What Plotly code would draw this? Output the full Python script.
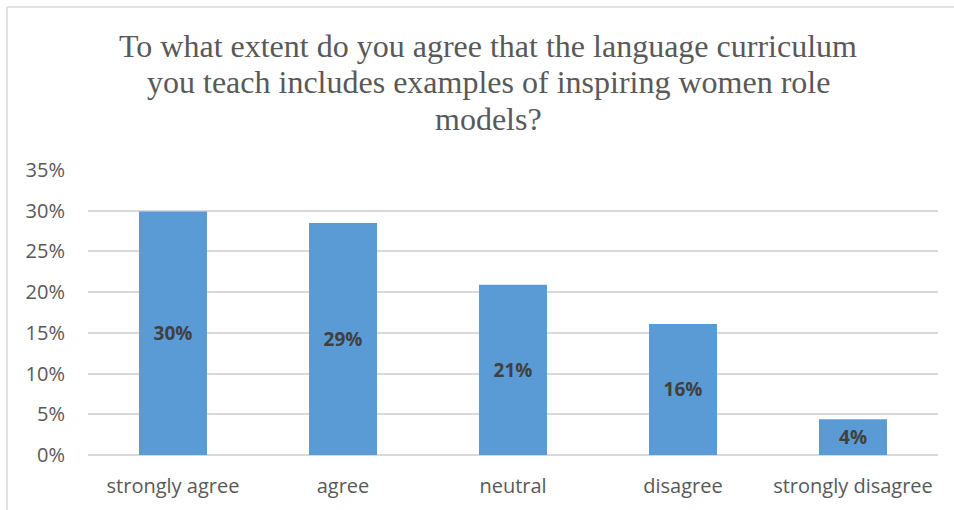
import plotly.graph_objects as go

categories = ["strongly agree", "agree", "neutral", "disagree", "strongly disagree"]
values = [0.299, 0.285, 0.209, 0.161, 0.044]
labels = ["30%", "29%", "21%", "16%", "4%"]
tick_vals = [0, 0.05, 0.10, 0.15, 0.20, 0.25, 0.30, 0.35]
tick_text = ["0%", "5%", "10%", "15%", "20%", "25%", "30%", "35%"]
title_lines = [
    "To what extent do you agree that the language curriculum",
    "you teach includes examples of inspiring women role",
    "models?",
]

SANS = "Open Sans, Liberation Sans, sans-serif"
SERIF = "Liberation Serif, Times New Roman, serif"

fig = go.Figure(go.Bar(
    x=categories, y=values, text=labels,
    textposition="inside", insidetextanchor="middle",
    textfont=dict(family=SANS, size=19, color="#404040", weight="bold"),
    marker=dict(color="#5B9BD5", line=dict(width=0)),
    width=0.4,
))

W, H = 954, 510
L, R, T, B = 88, 16, 170, 55
pw, ph = W - L - R, H - T - B

title_size = 32
baselines = [57, 93, 130]
annotations = []
for line, base in zip(title_lines, baselines):
    cy = base - 0.33 * title_size
    annotations.append(dict(
        text=line, showarrow=False, xref="paper", yref="paper",
        x=(488 - L) / pw, xanchor="center",
        y=(H - B - cy) / ph, yanchor="middle",
        font=dict(family=SERIF, size=title_size, color="#595959"),
    ))

fig.update_layout(
    width=W, height=H,
    margin=dict(l=L, r=R, t=T, b=B),
    paper_bgcolor="white", plot_bgcolor="white",
    showlegend=False,
    annotations=annotations,
    xaxis=dict(showgrid=False, showline=False, ticks="", ticklabelstandoff=17,
               tickfont=dict(family=SANS, size=20, color="#595959")),
    yaxis=dict(range=[0, 0.35], tickvals=tick_vals, ticktext=tick_text,
               showgrid=True, gridcolor="#D9D9D9", gridwidth=1.5,
               zeroline=True, zerolinecolor="#D9D9D9", zerolinewidth=1.5,
               showline=False, ticks="", ticklabelstandoff=22,
               tickfont=dict(family=SANS, size=20, color="#595959")),
    shapes=[
        dict(type="line", xref="paper", yref="paper",
             x0=(7 - L) / pw, x1=(W - L) / pw, y0=(H - B - 7) / ph, y1=(H - B - 7) / ph,
             line=dict(color="#D9D9D9", width=1.5)),
        dict(type="line", xref="paper", yref="paper",
             x0=(7 - L) / pw, x1=(7 - L) / pw, y0=(H - B - 7) / ph, y1=-B / ph,
             line=dict(color="#D9D9D9", width=1.5)),
    ],
)

fig.write_html("out.html", config={"displayModeBar": False},
               post_script="document.body.style.margin='0';")
